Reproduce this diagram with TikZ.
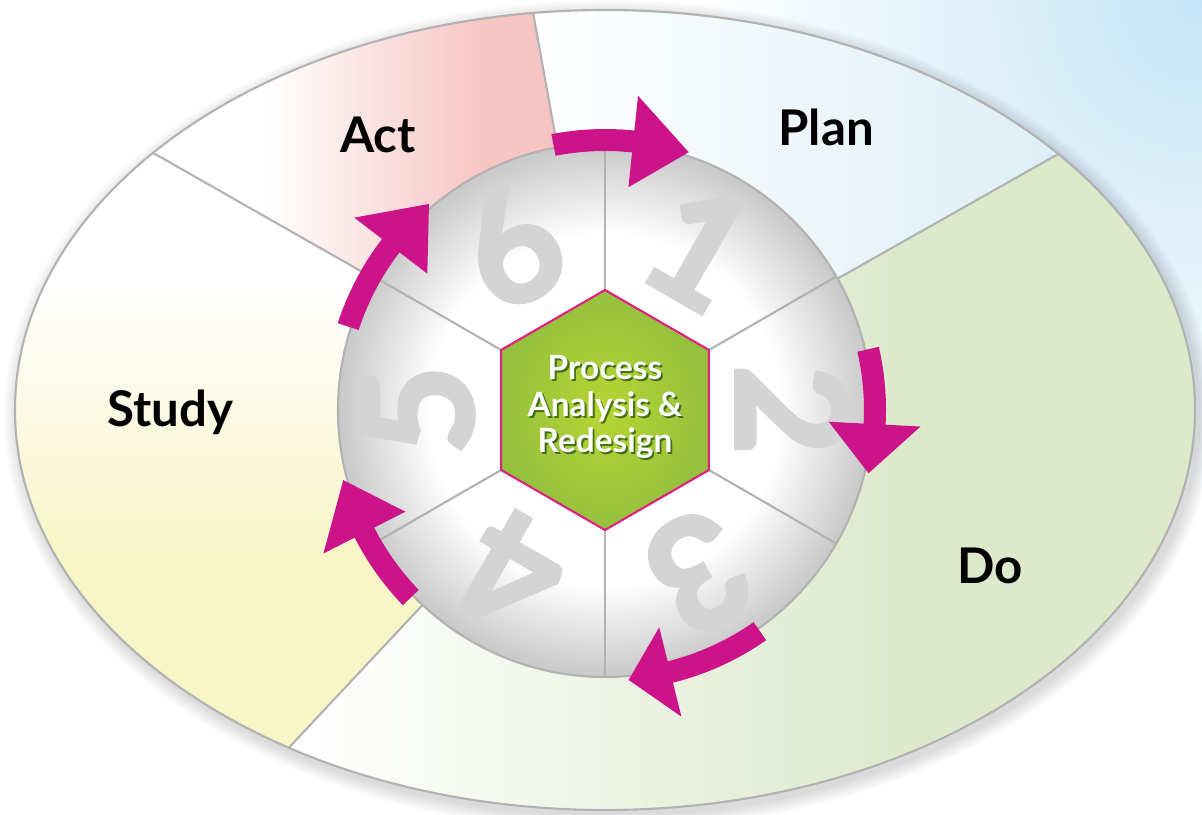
\documentclass[tikz,border=0pt]{standalone}
\usepackage{fontspec}
\setmainfont{Lato}
\newfontfamily\stepfont{Lato}[BoldFeatures={FakeBold=3}]
\usetikzlibrary{positioning,calc}

\definecolor{bgblue}{HTML}{C4E5F8}
\definecolor{planblue}{HTML}{DDEFF6}
\definecolor{actpink}{HTML}{F7C5C1}
\definecolor{studyyellow}{HTML}{F8F5C6}
\definecolor{dogreen}{HTML}{DDE9CB}
\definecolor{rimgray}{HTML}{B2B2B2}
\definecolor{discedge}{HTML}{C8C8C8}
\definecolor{digitgray}{HTML}{D4D4D4}
\definecolor{hexgreen}{HTML}{94C03E}
\definecolor{hexlight}{HTML}{B6D532}
\definecolor{hexedge}{HTML}{E0207F}
\definecolor{arrowmag}{HTML}{CD138A}

\pgfdeclareradialshading{discshade}{\pgfpoint{0bp}{0bp}}{color(0bp)=(white); color(16.5bp)=(white); color(25bp)=(discedge); color(50bp)=(discedge)}

% one curved arrow: start angle, head base angle, tip angle
\newcommand{\cyclearrow}[3]{%
  \fill[arrowmag] (#1:2.81) arc[start angle=#1, end angle=#2, radius=2.81]
    -- (#2:3.16) -- (#3:2.71) -- (#2:2.24) -- (#2:2.59)
    arc[start angle=#2, end angle=#1, radius=2.59] -- cycle;}

\begin{document}
\begin{tikzpicture}[line cap=round,
    divider/.style={draw=rimgray, line width=0.6pt},
    phase/.style={font=\fontsize{14}{16}\selectfont\bfseries, text=black, inner sep=0},
    stepnum/.style={font=\stepfont\fontsize{44}{44}\selectfont\bfseries, text=digitgray, inner sep=0},
    coretext/.style={font=\fontsize{9.5}{10.5}\selectfont\bfseries, align=center, inner sep=0}]

    \useasboundingbox (-6.05,-4.04) rectangle (5.97,4.10);

    % background
    \fill[white] (-6.05,-4.04) rectangle (5.97,4.10);
    \begin{scope}
        \clip (-6.05,-4.04) rectangle (5.97,4.10);
        \shade[inner color=bgblue, outer color=white] (5.97,4.10) circle (5);
    \end{scope}

    % soft shadow of the ellipse
    \foreach \s in {0,...,5}
        \fill[black, opacity=0.025] (0.04,-0.05) ellipse [x radius=5.92+0.025*\s, y radius=4.02+0.025*\s];
    \fill[white] (0,0) ellipse [x radius=5.9, y radius=4];

    \coordinate (c) at (0,0);
    \coordinate (pd) at (39.8:5.9 and 4);
    \coordinate (ap) at (97:5.9 and 4);
    \coordinate (as) at (140:5.9 and 4);
    \coordinate (sd) at (237.6:5.9 and 4);

    % plan
    \begin{scope}
        \clip (c) -- (pd) arc[start angle=39.8, end angle=97, x radius=5.9, y radius=4] -- cycle;
        \shade[left color=white, right color=planblue] (-0.8,0) rectangle (4.5,4.1);
        \fill[planblue] (4.5,0) rectangle (6,4.1);
    \end{scope}
    % act
    \begin{scope}
        \clip (c) -- (ap) arc[start angle=97, end angle=140, x radius=5.9, y radius=4] -- cycle;
        \shade[left color=white, right color=actpink] (-3.4,0) rectangle (-1.2,4.1);
        \fill[actpink] (-1.2,0) rectangle (0.2,4.1);
    \end{scope}
    % study
    \begin{scope}
        \clip (c) -- (as) arc[start angle=140, end angle=237.6, x radius=5.9, y radius=4] -- cycle;
        \shade[top color=white, bottom color=studyyellow] (-6,-1.5) rectangle (0.1,1.3);
        \fill[studyyellow] (-6,-4.1) rectangle (0.1,-1.5);
    \end{scope}
    % do
    \begin{scope}
        \clip (c) -- (sd) arc[start angle=237.6, end angle=399.8, x radius=5.9, y radius=4] -- cycle;
        \shade[left color=white, right color=dogreen] (-3,-4.1) rectangle (3,2.8);
        \fill[dogreen] (3,-4.1) rectangle (6,2.8);
    \end{scope}

    \draw[divider] (c) ellipse [x radius=5.9, y radius=4];
    \foreach \p in {pd,ap,as,sd}
        \draw[divider] (c) -- (\p);

    % disc with the six steps
    \shade[shading=discshade] (c) circle (2.67);
    \draw[divider] (c) circle (2.67);
    \foreach \n/\a in {1/60, 2/0, 3/-60, 4/-120, 5/180, 6/120}
        \node[stepnum, rotate=\a-90] (num\n) at (\a:1.88) {\n};
    \foreach \a in {30,90,...,330}
        \draw[divider] (\a:1.2) -- (\a:2.67);

    % hexagon
    \shadedraw[inner color=hexlight, outer color=hexgreen, draw=hexedge, line width=0.6pt]
        (90:1.2) -- (30:1.2) -- (-30:1.2) -- (-90:1.2) -- (-150:1.2) -- (150:1.2) -- cycle;
    \node[coretext, text=black!80!green, opacity=0.6] (coreshadow) at (0.018,0.01) {Process\\Analysis \&\\Redesign};
    \node[coretext, text=white] (core) at (0,0.03) {Process\\Analysis \&\\Redesign};

    % arrows round the disc
    \cyclearrow{101}{84}{72}
    \cyclearrow{13}{-3}{-13.5}
    \cyclearrow{-55}{-76}{-85}
    \cyclearrow{224}{207}{195}
    \cyclearrow{162}{142.5}{130.5}

    % phase labels
    \node[phase] (act) at (-2.27,2.75) {Act};
    \node[phase] (plan) at (2.21,2.83) {Plan};
    \node[phase] (study) at (-4.35,-0.02) {Study};
    \node[phase] (do) at (3.85,-1.56) {Do};

\end{tikzpicture}
\end{document}
